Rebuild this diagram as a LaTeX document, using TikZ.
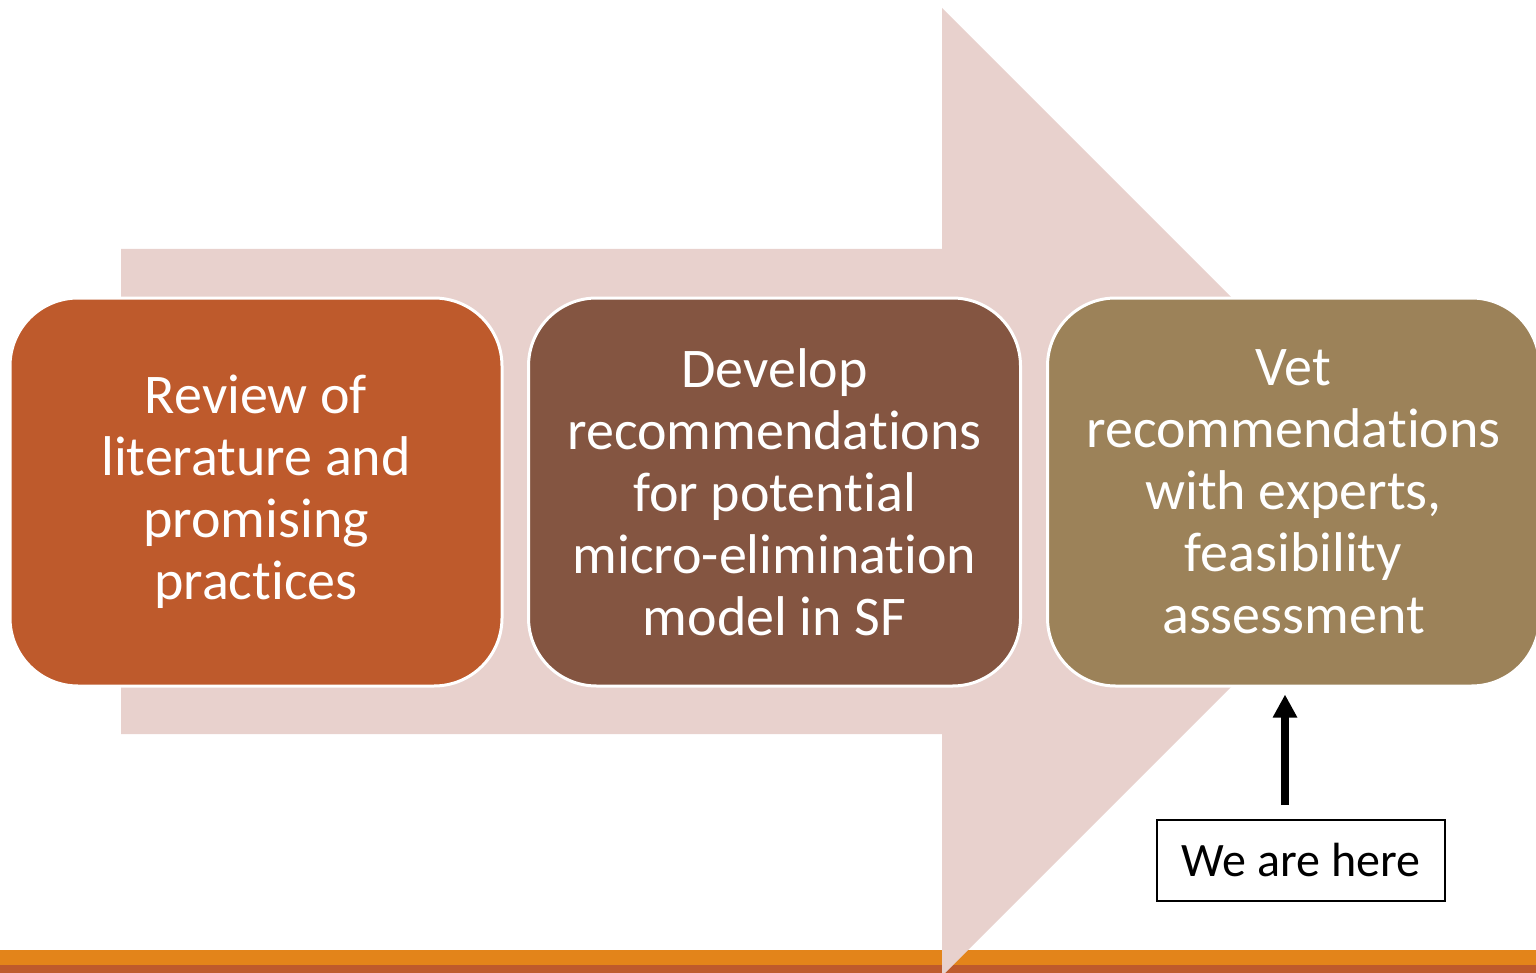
\documentclass[tikz,border=0pt]{standalone}
\usepackage{fontspec}
\setmainfont{Carlito}[Ligatures=CommonOff]
\usetikzlibrary{arrows.meta}
\definecolor{arrowpink}{HTML}{E8D1CD}
\definecolor{stepone}{HTML}{BE5A2C}
\definecolor{steptwo}{HTML}{845541}
\definecolor{stepthree}{HTML}{9C8259}
\definecolor{barorange}{HTML}{E3841A}
\begin{document}
\begin{tikzpicture}[x=0.5pt,y=-0.5pt,
  stage/.style={rounded corners=34pt,draw=white,line width=1.5pt,text=white,
    minimum width=246pt,minimum height=194pt,align=center,
    font=\fontsize{28}{31}\selectfont},
  herebox/.style={draw=black,line width=0.75pt,minimum width=144pt,
    minimum height=40.5pt,font=\fontsize{24}{28}\selectfont},
  pointer/.style={-{Triangle[width=11.5pt,length=11.5pt]},line width=4pt}]
  \useasboundingbox (0,0) rectangle (1536,973);
  \clip (0,0) rectangle (1536,973);
  \fill[barorange] (0,950) rectangle (1536,965);
  \fill[stepone] (0,965) rectangle (1536,973);
  \fill[arrowpink] (121,249) -- (942,249) -- (942,8) -- (1426,492)
    -- (942,976) -- (942,734) -- (121,734) -- cycle;
  \node[stage,fill=stepone] (review) at (256,492)
    {Review of\\literature and\\promising\\practices};
  \node[stage,fill=steptwo] (develop) at (774.5,492)
    {Develop\\recommendations\\for potential\\micro-elimination\\model in SF};
  \node[stage,fill=stepthree] (vet) at (1293.5,492)
    {Vet\\recommendations\\with experts,\\feasibility\\assessment};
  \node[herebox] (here) at (1301,860.5) {We are here};
  \coordinate (tail) at (1285,805);
  \draw[pointer,shorten >=3.5pt] (tail) -- (tail |- vet.south);
\end{tikzpicture}
\end{document}
